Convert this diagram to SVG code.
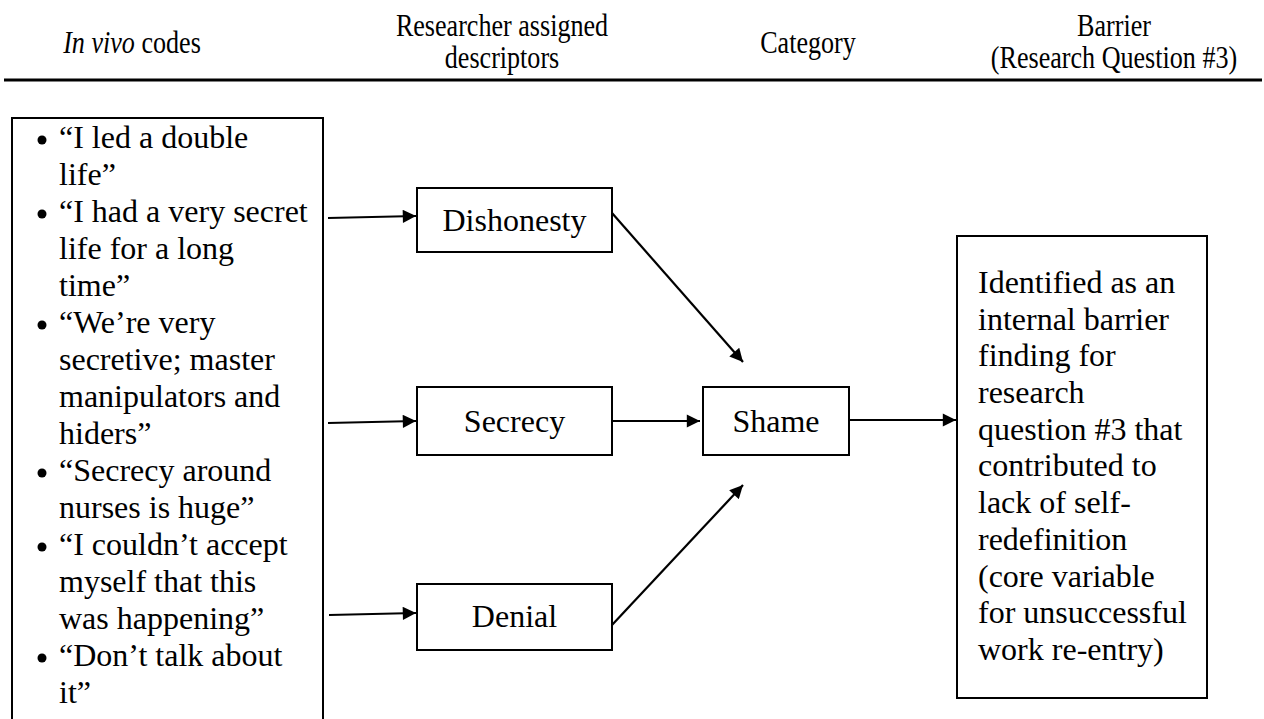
<svg xmlns="http://www.w3.org/2000/svg" width="1264" height="719" viewBox="0 0 1264 719">
<defs>
<style>
.t{font-family:"Liberation Serif","Times New Roman",serif;font-size:32px;fill:#000}
.h{font-family:"Liberation Serif","Times New Roman",serif;font-size:29px;fill:#000;text-anchor:middle}
.c{text-anchor:middle}
.box{fill:#fff;stroke:#000;stroke-width:2}
.ln{stroke:#000;stroke-width:2.2;fill:none}
</style>
<marker id="ah" viewBox="0 0 10 10" refX="10" refY="5" markerWidth="6.5" markerHeight="6" markerUnits="strokeWidth" orient="auto">
<path d="M0,0 L10,5 L0,10 z" fill="#000"/>
</marker>
</defs>
<rect width="1264" height="719" fill="#fff"/>
<g id="header">
<text class="h" transform="translate(132,53) scale(0.9,1.12)"><tspan font-style="italic">In vivo</tspan> codes</text>
<text class="h" transform="translate(502,36) scale(0.9,1.12)">Researcher assigned</text>
<text class="h" transform="translate(502,68) scale(0.9,1.12)">descriptors</text>
<text class="h" transform="translate(808,53) scale(0.9,1.12)">Category</text>
<text class="h" transform="translate(1114,36) scale(0.9,1.12)">Barrier</text>
<text class="h" transform="translate(1114,68) scale(0.9,1.12)">(Research Question #3)</text>
<line x1="4" y1="80" x2="1262" y2="80" stroke="#000" stroke-width="3"/>
</g>
<g id="codes">
<rect class="box" x="12" y="118" width="311" height="620"/>
<g fill="#000">
<circle cx="42" cy="140" r="4.5"/>
<circle cx="42" cy="214" r="4.5"/>
<circle cx="42" cy="325" r="4.5"/>
<circle cx="42" cy="473" r="4.5"/>
<circle cx="42" cy="547" r="4.5"/>
<circle cx="42" cy="658" r="4.5"/>
</g>
<text class="t">
<tspan x="59" y="148">“I led a double</tspan>
<tspan x="59" y="185">life”</tspan>
<tspan x="59" y="222">“I had a very secret</tspan>
<tspan x="59" y="259">life for a long</tspan>
<tspan x="59" y="296">time”</tspan>
<tspan x="59" y="333">“We’re very</tspan>
<tspan x="59" y="370">secretive; master</tspan>
<tspan x="59" y="407">manipulators and</tspan>
<tspan x="59" y="444">hiders”</tspan>
<tspan x="59" y="481">“Secrecy around</tspan>
<tspan x="59" y="518">nurses is huge”</tspan>
<tspan x="59" y="555">“I couldn’t accept</tspan>
<tspan x="59" y="592">myself that this</tspan>
<tspan x="59" y="629">was happening”</tspan>
<tspan x="59" y="666">“Don’t talk about</tspan>
<tspan x="59" y="703">it”</tspan>
</text>
</g>
<g id="dishonesty">
<rect class="box" x="417" y="188" width="195" height="64"/>
<text class="t c" x="514.5" y="231">Dishonesty</text>
</g>
<g id="secrecy">
<rect class="box" x="417" y="387" width="195" height="68"/>
<text class="t c" x="514.5" y="432">Secrecy</text>
</g>
<g id="denial">
<rect class="box" x="417" y="584" width="195" height="66"/>
<text class="t c" x="514.5" y="627">Denial</text>
</g>
<g id="shame">
<rect class="box" x="703" y="387" width="146" height="68"/>
<text class="t c" x="776" y="432">Shame</text>
</g>
<g id="barrier">
<rect class="box" x="957" y="236" width="250" height="462"/>
<text class="t">
<tspan x="978" y="293">Identified as an</tspan>
<tspan x="978" y="330">internal barrier</tspan>
<tspan x="978" y="366">finding for</tspan>
<tspan x="978" y="403">research</tspan>
<tspan x="978" y="440">question #3 that</tspan>
<tspan x="978" y="476">contributed to</tspan>
<tspan x="978" y="513">lack of self-</tspan>
<tspan x="978" y="550">redefinition</tspan>
<tspan x="978" y="587">(core variable</tspan>
<tspan x="978" y="623">for unsuccessful</tspan>
<tspan x="978" y="660">work re-entry)</tspan>
</text>
</g>
<g id="connectors" class="ln" marker-end="url(#ah)">
<line x1="328" y1="218" x2="416" y2="216"/>
<line x1="328" y1="423" x2="416" y2="421"/>
<line x1="329" y1="615" x2="416" y2="613"/>
<line x1="612" y1="213" x2="743" y2="362"/>
<line x1="612" y1="421" x2="700" y2="421"/>
<line x1="612" y1="625" x2="743" y2="485"/>
<line x1="849" y1="420" x2="956" y2="420"/>
</g>
</svg>
